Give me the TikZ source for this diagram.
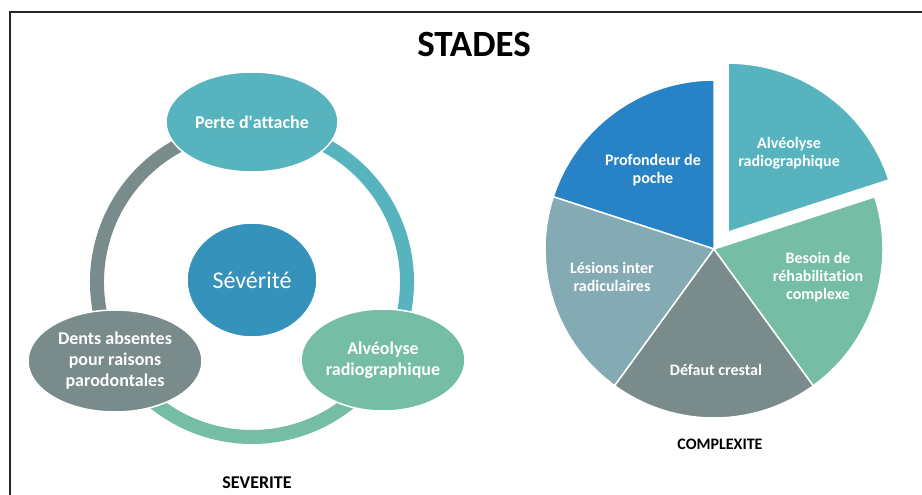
\documentclass[tikz,border=0pt]{standalone}
\usepackage{fontspec}
\setmainfont[Ligatures=NoCommon]{Carlito}
\usetikzlibrary{shapes.geometric}
\definecolor{cteal}{HTML}{57B4BF}
\definecolor{cblue}{HTML}{3592BA}
\definecolor{cgreen}{HTML}{76BDA6}
\definecolor{cgray}{HTML}{7A8B8B}
\definecolor{cpblue}{HTML}{2882C6}
\definecolor{cgblue}{HTML}{84AAB3}
\tikzset{
  x=1pt,y=1pt,
  oval/.style={ellipse, draw=white, line width=1.5pt, inner sep=0pt, text=white,
    font=\fontsize{18}{21}\selectfont\bfseries, align=center},
  ringarc/.style={line width=14pt, line cap=butt},
  slice/.style={draw=white, line width=1.5pt, line join=round},
  slicelabel/.style={text=white, font=\fontsize{16}{18}\selectfont\bfseries, align=center},
  caption/.style={font=\fontsize{18}{20}\selectfont\bfseries},
}
\begin{document}
\begin{tikzpicture}
\useasboundingbox (0,0) rectangle (922,495);
\fill[white] (0,0) rectangle (922,495);
% frame
\draw[line width=2.3pt, black!85] (9.7,0) -- (9.7,483) -- (922,483);
\node[font=\fontsize{37}{40}\selectfont\bfseries] (title) at (474,450) {STADES};

% ---- severity cycle ----
\coordinate (rc) at (252,213);
\draw[ringarc, cgray]  ([shift={(115:155)}]rc) arc[start angle=115, end angle=200, radius=155];
\draw[ringarc, cteal]  ([shift={(65:155)}]rc) arc[start angle=65, end angle=-15, radius=155];
\draw[ringarc, cgreen] ([shift={(225:155)}]rc) arc[start angle=225, end angle=315, radius=155];

\node[oval, fill=cteal, minimum width=172pt, minimum height=100pt] (perte) at (252,373) {Perte d\textquotesingle attache};
\node[oval, fill=cgreen, minimum width=164pt, minimum height=102pt] (alveo) at (383,135) {Alvéolyse\\radiographique};
\node[oval, fill=cgray, minimum width=174pt, minimum height=102pt] (dents) at (115,134) {Dents absentes\\pour raisons\\parodontales};
\node[oval, fill=cblue, minimum width=130pt, minimum height=114pt,
  font=\fontsize{24}{28}\selectfont] (sev) at (252,215) {Sévérité};
\node[caption] (severite) at (257,12) {SEVERITE};

% ---- complexity pie ----
\coordinate (pc) at (714,246);
\def\pr{169}
\fill[slice, fill=cpblue] (pc) -- ([shift={(90:\pr)}]pc) arc[start angle=90, end angle=162, radius=\pr] -- cycle;
\fill[slice, fill=cgblue] (pc) -- ([shift={(162:\pr)}]pc) arc[start angle=162, end angle=234, radius=\pr] -- cycle;
\fill[slice, fill=cgray] (pc) -- ([shift={(234:\pr)}]pc) arc[start angle=234, end angle=306, radius=\pr] -- cycle;
\fill[slice, fill=cgreen] (pc) -- ([shift={(-54:\pr)}]pc) arc[start angle=-54, end angle=18, radius=\pr] -- cycle;
\coordinate (pc2) at ([shift={(50:22)}]pc);
\fill[slice, fill=cteal] (pc2) -- ([shift={(18:\pr)}]pc2) arc[start angle=18, end angle=90, radius=\pr] -- cycle;

\node[slicelabel] (prof) at (653,325) {Profondeur de\\poche};
\node[slicelabel] (alv2) at (789,342) {Alvéolyse\\radiographique};
\node[slicelabel] (besoin) at (818,218) {Besoin de\\réhabilitation\\complexe};
\node[slicelabel] (defaut) at (716,125) {Défaut crestal};
\node[slicelabel] (lesions) at (612,218) {Lésions inter\\radiculaires};
\node[caption, font=\fontsize{16}{20}\selectfont\bfseries] (complexite) at (720,51) {COMPLEXITE};
\end{tikzpicture}
\end{document}
